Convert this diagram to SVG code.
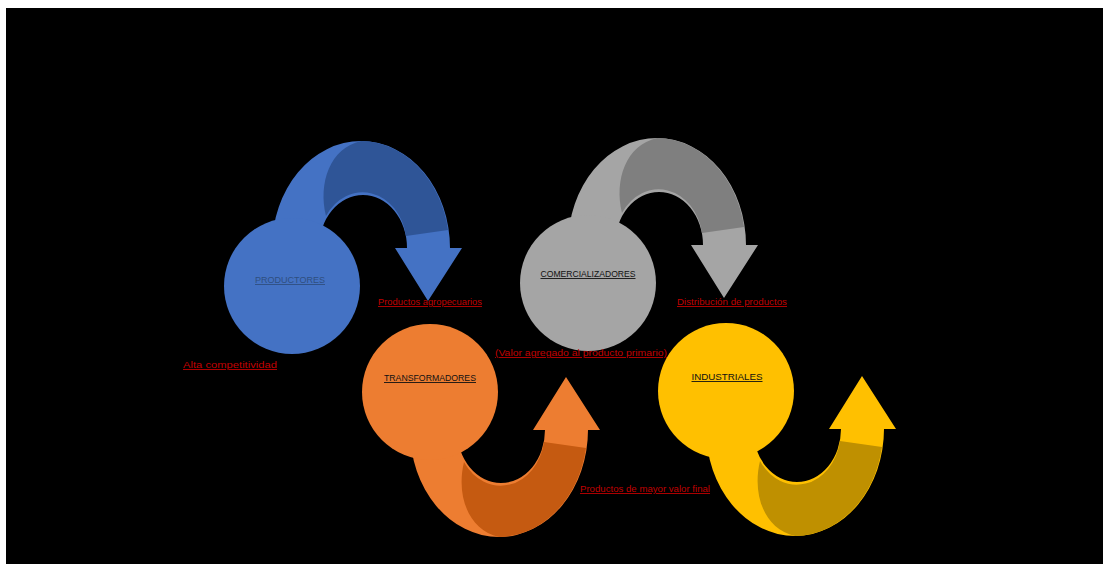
<svg xmlns="http://www.w3.org/2000/svg" width="1108" height="564" viewBox="0 0 1108 564">
  <defs>
    <style>
      .lbl { font-family: "Liberation Sans", Arial, sans-serif; font-size: 9px; text-anchor: middle; text-decoration: underline; fill: #111111; }
      .red { font-family: "Liberation Sans", Arial, sans-serif; font-size: 9px; text-anchor: middle; text-decoration: underline; fill: #C00000; }
    </style>
    <path id="arrowBody" d="M 410,430 A 89 107 0 0 0 588,430 L 600,430 L 566,377 L 533,430 L 545,430 A 44 53 0 0 1 457,430 Z"/>
    <path id="arrowFace" d="M 464,462 C 456,495 468,530 499,537 A 89 107 0 0 0 586,448 L 544,442 A 44 53 0 0 1 464,462 Z"/>
  </defs>
  <rect x="0" y="0" width="1108" height="564" fill="#ffffff"/>
  <rect x="6" y="8" width="1097" height="556" fill="#000000"/>

  <g id="connectors">
    <g id="arrow-productores" transform="matrix(1,0,0,-1,-138,678)">
      <use href="#arrowBody" fill="#4472C4"/>
      <use href="#arrowFace" fill="#2F5597"/>
    </g>
    <g id="arrow-comercializadores" transform="matrix(1,0,0,-1,158,675)">
      <use href="#arrowBody" fill="#A5A5A5"/>
      <use href="#arrowFace" fill="#7F7F7F"/>
    </g>
    <g id="arrow-transformadores">
      <use href="#arrowBody" fill="#ED7D31"/>
      <use href="#arrowFace" fill="#C55A11"/>
    </g>
    <g id="arrow-industriales" transform="translate(296,-1)">
      <use href="#arrowBody" fill="#FFC000"/>
      <use href="#arrowFace" fill="#BF9000"/>
    </g>
  </g>

  <g id="productores">
    <circle cx="292" cy="286" r="68" fill="#4472C4"/>
    <text class="lbl" x="290" y="283" textLength="70" lengthAdjust="spacingAndGlyphs" style="fill:#2F4F80">PRODUCTORES</text>
  </g>
  <g id="comercializadores">
    <circle cx="588" cy="283" r="68" fill="#A5A5A5"/>
    <text class="lbl" x="588" y="277" textLength="95" lengthAdjust="spacingAndGlyphs">COMERCIALIZADORES</text>
  </g>
  <g id="transformadores">
    <circle cx="430" cy="392" r="68" fill="#ED7D31"/>
    <text class="lbl" x="430" y="381" textLength="92" lengthAdjust="spacingAndGlyphs">TRANSFORMADORES</text>
  </g>
  <g id="industriales">
    <circle cx="726" cy="391" r="68" fill="#FFC000"/>
    <text class="lbl" x="727" y="380" textLength="71" lengthAdjust="spacingAndGlyphs">INDUSTRIALES</text>
  </g>

  <g id="labels">
    <text class="red" x="430" y="305" textLength="104" lengthAdjust="spacingAndGlyphs">Productos agropecuarios</text>
    <text class="red" x="230" y="368" textLength="94" lengthAdjust="spacingAndGlyphs">Alta competitividad</text>
    <text class="red" x="732" y="305" textLength="110" lengthAdjust="spacingAndGlyphs">Distribución de productos</text>
    <text class="red" x="581" y="356" textLength="172" lengthAdjust="spacingAndGlyphs">(Valor agregado al producto primario)</text>
    <text class="red" x="645" y="492" textLength="130" lengthAdjust="spacingAndGlyphs">Productos de mayor valor final</text>
  </g>
</svg>
